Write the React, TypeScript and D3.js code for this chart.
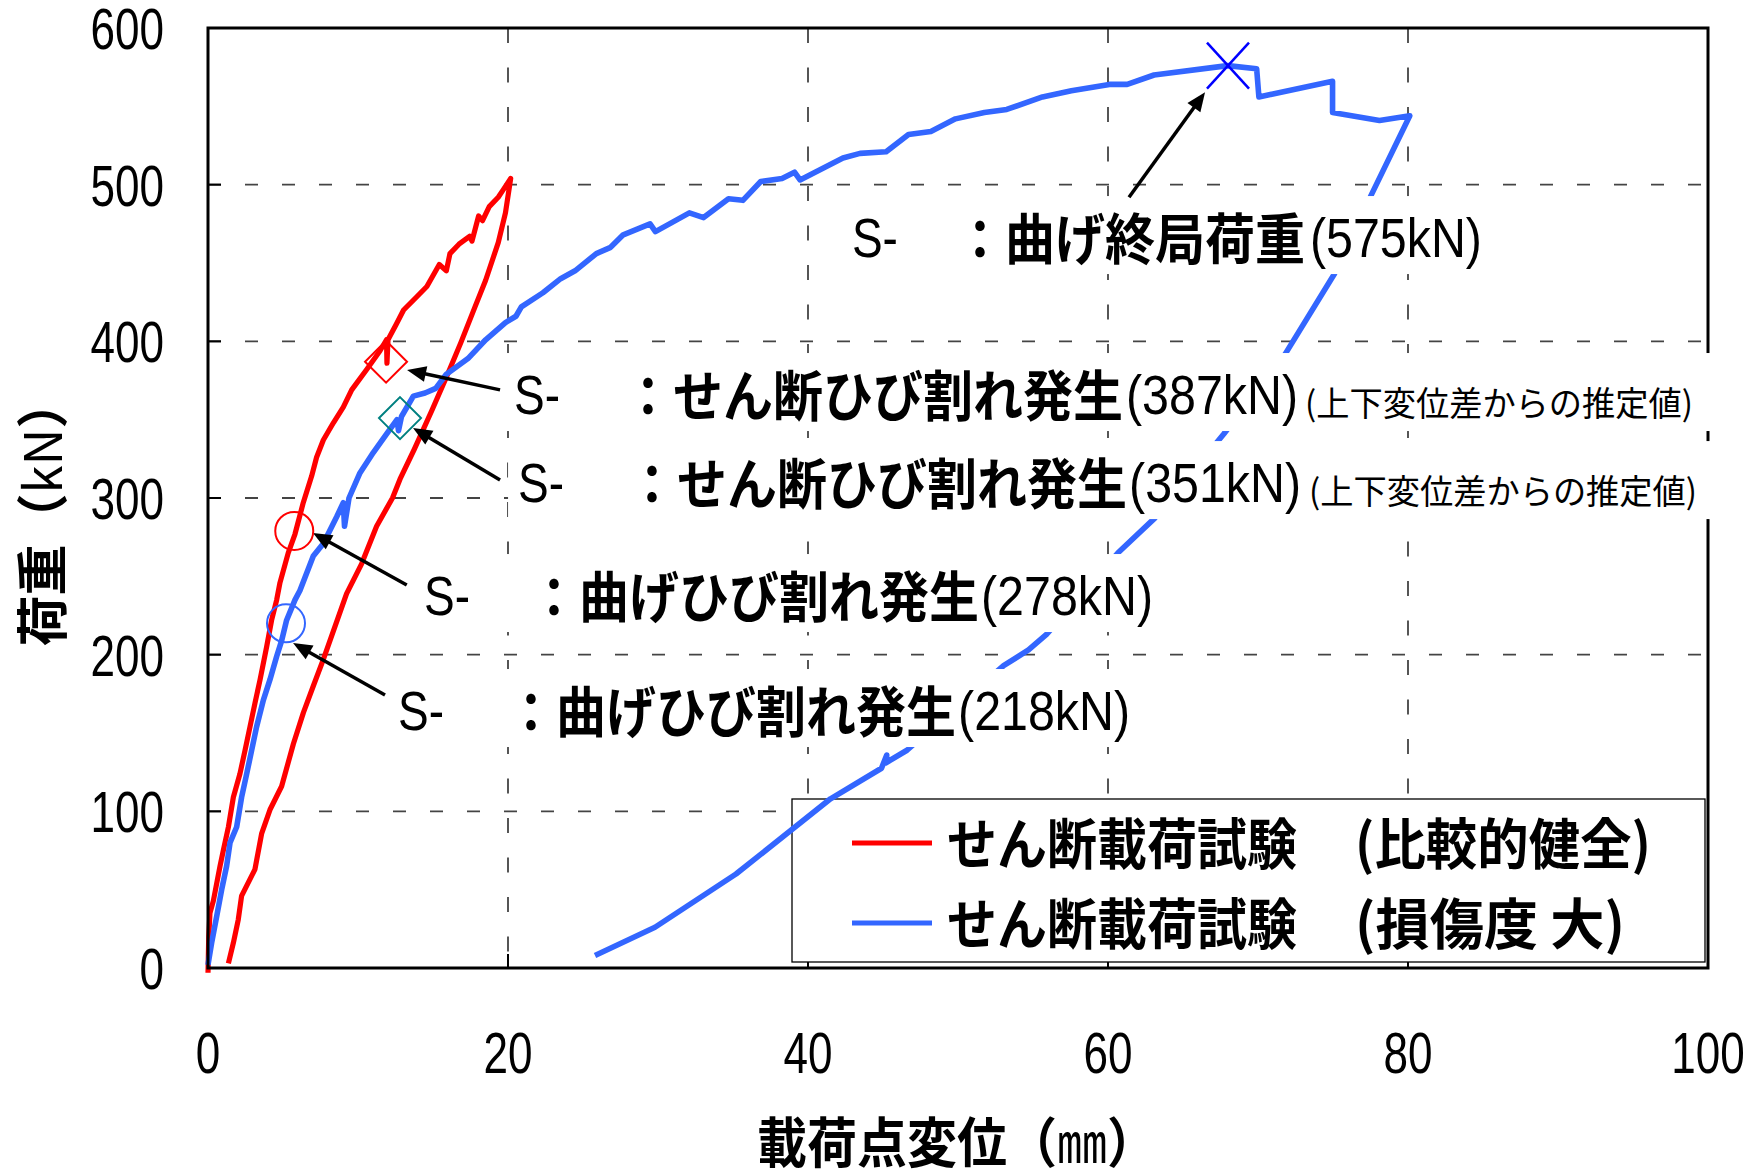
import React from "react";
import * as d3 from "d3";

// ---------- data ----------
const xTicks = [0, 20, 40, 60, 80, 100];
const yTicks = [0, 100, 200, 300, 400, 500, 600];

// せん断載荷試験 (比較的健全) – red
const redDisp = [0, 0.05, 0.13, 0.36, 0.8, 1.02, 1.36, 1.69, 2.13, 2.47, 2.8, 3.13, 3.47, 3.91, 4.24, 4.58, 4.8, 5.35, 5.8, 6.35, 6.91, 7.24, 7.69, 8.36, 9.02, 9.58, 10.58, 11.47, 11.9, 11.93, 12.0, 12.56, 13.04, 13.87, 14.59, 15.42, 15.89, 16.13, 16.73, 17.44, 17.6, 18.04, 18.3, 18.75, 19.35, 19.7, 20.18,
  19.83, 19.35, 18.51, 17.8, 16.85, 15.89, 14.93, 13.75, 12.8, 12.3, 11.24, 10.24, 9.24, 7.69, 7.02, 6.36, 5.69, 4.91, 4.13, 3.58, 3.13, 2.24, 2.02, 1.69, 1.36];
const redLoad = [-3, 20, 35, 43, 65, 75, 90, 109, 124, 139, 154, 169, 184, 205, 222, 235, 246, 265, 277, 297, 314, 326, 337, 348, 358, 369, 382, 394, 401, 386, 401, 411, 420, 428, 435, 449, 445, 456, 462, 467, 464, 480, 477, 486, 492, 497, 504,
  482, 463, 439, 422, 399, 377, 356, 331, 312, 300, 282, 258, 239, 197, 180, 163, 143, 116, 101, 86, 63, 46, 31, 16, 3];

// せん断載荷試験 (損傷度 大) – blue
const blueDisp = [0, 0.24, 0.58, 0.91, 1.24, 1.47, 1.91, 2.24, 2.58, 2.91, 3.24, 3.69, 4.13, 4.58, 4.91, 5.24, 5.8, 6.13, 7.02, 7.69, 8.58, 9.02, 9.1, 9.4, 10.13, 11.02, 11.91, 12.6, 12.7, 12.9, 13.69, 14.47, 15.18, 15.89, 17.33, 18.51, 19.83, 20.53, 20.89, 22.33, 23.51, 24.47, 25.89, 26.84, 27.68, 29.47, 29.83, 32.09, 33.04, 34.7, 35.66, 36.85, 38.27, 39.1, 39.47, 42.33, 43.47, 45.21, 46.7, 48.19, 49.83, 51.76, 53.25, 55.63, 57.56, 60.09, 61.28, 63.07, 67.98, 69.91, 70.06, 74.97, 74.97, 78.1, 80.12,
  77.53, 75.09, 71.82, 67.73, 63.1, 60.67, 55.9, 54.7, 53.04, 46.6, 45.2, 45.25, 44.9, 41.5, 35.2, 29.8, 25.8];
const blueLoad = [2, 16, 33, 50, 65, 80, 90, 109, 124, 139, 154, 171, 184, 199, 209, 222, 235, 241, 263, 271, 288, 297, 282, 300, 316, 329, 341, 350, 343, 352, 365, 367, 370, 379, 389, 401, 412, 416, 422, 431, 440, 445, 456, 460, 468, 475, 470, 482, 479, 491, 490, 502, 504, 508, 503, 517, 520, 521, 532, 534, 542, 546, 548, 556, 560, 564, 564, 570, 576, 574, 556, 566, 546, 541, 544,
  493, 443, 392, 341, 287, 265, 213, 203, 193, 139, 131, 136, 127.5, 108, 60, 26, 8];

// event markers [disp, load]
const redDiamond = [11.87, 387];
const tealDiamond = [12.8, 351];
const redCircle = [5.75, 279];
const blueCircle = [5.2, 220];
const blueCross = [68.0, 576];

// annotation texts
const annHead = ["S-", "S-", "S-", "S-", "S-"];
const annBody = ["：曲げ終局荷重", "：せん断ひび割れ発生", "：せん断ひび割れ発生", "：曲げひび割れ発生", "：曲げひび割れ発生"];
const annValue = ["(575kN)", "(387kN)", "(351kN)", "(278kN)", "(218kN)"];
const annNote = ["", "(上下変位差からの推定値)", "(上下変位差からの推定値)", "", ""];
// anchor of the label (data coords) and arrow start/end (data coords)
const annAnchorX = [42.93, 20.4, 20.67, 14.4, 12.67];
const annAnchorY = [453.8, 353.6, 297.4, 225.3, 151.9];
const arrowFrom = [[61.4, 492], [19.47, 369], [19.47, 311.5], [13.25, 244.5], [11.8, 174.3]];
const arrowTo = [[66.47, 559], [13.27, 381.7], [13.67, 344.7], [7.0, 277.7], [5.67, 207.4]];

const legendNames = ["せん断載荷試験", "せん断載荷試験"];
const legendNotes = ["(比較的健全)", "(損傷度 大)"];
const legendColors = ["#ff0000", "#3366ff"];

// ---------- layout ----------
const W = 1763, H = 1169;
const PL = 208, PR = 1708, PT = 28, PB = 968;
const LATIN = "'Liberation Sans Narrow','Liberation Sans',Arial,sans-serif";
const CJK = "'Noto Sans CJK JP','Noto Sans CJK SC',sans-serif";
const annLayout = [
  { bodyDx: 103, valDx: 458, noteDx: 0, boxL: -14, boxR: 643 },
  { bodyDx: 109, valDx: 612, noteDx: 791, boxL: -9, boxR: 1202 },
  { bodyDx: 109, valDx: 611, noteDx: 791, boxL: -10, boxR: 1200 },
  { bodyDx: 105, valDx: 557, noteDx: 0, boxL: -9, boxR: 741 },
  { bodyDx: 108, valDx: 560, noteDx: 0, boxL: -8, boxR: 742 },
];

function Arrow({ x1, y1, x2, y2 }: { x1: number; y1: number; x2: number; y2: number }) {
  const dx = x2 - x1, dy = y2 - y1;
  const L = Math.hypot(dx, dy);
  const ux = dx / L, uy = dy / L;
  const hl = 19, hw = 8;
  const bx = x2 - ux * hl, by = y2 - uy * hl;
  return (
    <g>
      <line x1={x1} y1={y1} x2={bx + ux * 2} y2={by + uy * 2} stroke="#000" strokeWidth={3.5} />
      <polygon points={`${x2},${y2} ${bx - uy * hw},${by + ux * hw} ${bx + uy * hw},${by - ux * hw}`} fill="#000" />
    </g>
  );
}

export default function App() {
  const x = d3.scaleLinear().domain([0, 100]).range([PL, PR]);
  const y = d3.scaleLinear().domain([0, 600]).range([PB, PT]);
  const line = d3.line<[number, number]>().x((d) => x(d[0])).y((d) => y(d[1]));
  const redPts = redDisp.map((d, i) => [d, redLoad[i]] as [number, number]);
  const bluePts = blueDisp.map((d, i) => [d, blueLoad[i]] as [number, number]);

  const diamond = (p: number[], r: number) => {
    const cx = x(p[0]), cy = y(p[1]);
    return `M${cx},${cy - r}L${cx + r},${cy}L${cx},${cy + r}L${cx - r},${cy}Z`;
  };

  return (
    <svg width={W} height={H} style={{ position: "absolute", left: 0, top: 0, background: "#fff" }}>
      <rect x={0} y={0} width={W} height={H} fill="#fff" />
      {/* grid */}
      {yTicks.filter((t) => t > 0 && t < 600).map((t) => (
        <line key={"gy" + t} x1={PL} x2={PR} y1={y(t)} y2={y(t)} stroke="#444" strokeWidth={1.8} strokeDasharray="13 24" />
      ))}
      {xTicks.filter((t) => t > 0 && t < 100).map((t) => (
        <line key={"gx" + t} x1={x(t)} x2={x(t)} y1={PT} y2={PB} stroke="#444" strokeWidth={1.8} strokeDasharray="15 24.5" />
      ))}
      {/* inner ticks */}
      {yTicks.map((t) => (
        <line key={"ty" + t} x1={PL} x2={PL + 13} y1={y(t)} y2={y(t)} stroke="#000" strokeWidth={2} />
      ))}
      {xTicks.map((t) => (
        <line key={"tx" + t} x1={x(t)} x2={x(t)} y1={PB} y2={PB - 14} stroke="#000" strokeWidth={2} />
      ))}

      {/* legend frame (under curves) */}
      <rect x={792} y={799} width={913} height={163} fill="#fff" stroke="#000" strokeWidth={1.3} />

      {/* curves */}
      <path d={line(redPts) || ""} fill="none" stroke="#ff0000" strokeWidth={5.2} strokeLinejoin="round" />
      <path d={line(bluePts) || ""} fill="none" stroke="#3366ff" strokeWidth={5.6} strokeLinejoin="round" />

      {/* frame */}
      <rect x={PL} y={PT} width={PR - PL} height={PB - PT} fill="none" stroke="#000" strokeWidth={3} />

      {/* annotation boxes and texts */}
      {annHead.map((h, i) => {
        const ax = x(annAnchorX[i]);
        const ay = y(annAnchorY[i]);
        const L = annLayout[i];
        const bodyW = Array.from(annBody[i]).length * 50;
        return (
          <g key={"ann" + i}>
            <rect x={ax + L.boxL} y={ay - 61} width={L.boxR - L.boxL} height={78} fill="#fff" />
            <text x={ax} y={ay} fontFamily={LATIN} fontSize={56} textLength={46} lengthAdjust="spacingAndGlyphs" fill="#000">{h}</text>
            <text x={ax + L.bodyDx} y={ay + 2} fontFamily={CJK} fontWeight={700} fontSize={55} textLength={bodyW} lengthAdjust="spacingAndGlyphs" fill="#000">{annBody[i]}</text>
            <text x={ax + L.valDx} y={ay} fontFamily={LATIN} fontSize={56} textLength={172} lengthAdjust="spacingAndGlyphs" fill="#000">{annValue[i]}</text>
            {annNote[i] ? (
              <text x={ax + L.noteDx} y={ay + 2} fontFamily={CJK} fontSize={34} textLength={388} lengthAdjust="spacingAndGlyphs" fill="#000">{annNote[i]}</text>
            ) : null}
          </g>
        );
      })}

      {/* arrows */}
      {arrowFrom.map((f, i) => (
        <Arrow key={"ar" + i} x1={x(f[0])} y1={y(f[1])} x2={x(arrowTo[i][0])} y2={y(arrowTo[i][1])} />
      ))}

      {/* markers */}
      <path d={diamond(redDiamond, 21)} fill="none" stroke="#ff0000" strokeWidth={2} />
      <path d={diamond(tealDiamond, 21)} fill="none" stroke="#008080" strokeWidth={2} />
      <circle cx={x(redCircle[0])} cy={y(redCircle[1])} r={19} fill="none" stroke="#ff0000" strokeWidth={2} />
      <circle cx={x(blueCircle[0])} cy={y(blueCircle[1])} r={19} fill="none" stroke="#3366ff" strokeWidth={2} />
      <g stroke="#0000ff" strokeWidth={2.5}>
        <line x1={x(blueCross[0]) - 21} y1={y(blueCross[1]) - 23} x2={x(blueCross[0]) + 21} y2={y(blueCross[1]) + 23} />
        <line x1={x(blueCross[0]) - 21} y1={y(blueCross[1]) + 23} x2={x(blueCross[0]) + 21} y2={y(blueCross[1]) - 23} />
      </g>

      {/* legend contents */}
      {legendNames.map((n, i) => {
        const cy = 843 + i * 80;
        return (
          <g key={"lg" + i}>
            <line x1={852} x2={932} y1={cy} y2={cy} stroke={legendColors[i]} strokeWidth={5} />
            <text x={947} y={cy + 21} fontFamily={CJK} fontWeight={700} fontSize={55} textLength={350} lengthAdjust="spacingAndGlyphs" fill="#000">{n}</text>
            <text x={1355} y={cy + 21} fontFamily={CJK} fontWeight={700} fontSize={55} textLength={i === 0 ? 296 : 270} lengthAdjust="spacingAndGlyphs" fill="#000">{legendNotes[i]}</text>
          </g>
        );
      })}

      {/* tick labels */}
      {yTicks.map((t) => (
        <text key={"yl" + t} x={164} y={y(t) + 21} textAnchor="end" fontFamily={LATIN} fontSize={58} textLength={String(t).length * 24.5} lengthAdjust="spacingAndGlyphs" fill="#000">{t}</text>
      ))}
      {xTicks.map((t) => (
        <text key={"xl" + t} x={x(t)} y={1073} textAnchor="middle" fontFamily={LATIN} fontSize={58} textLength={String(t).length * 24.5} lengthAdjust="spacingAndGlyphs" fill="#000">{t}</text>
      ))}

      {/* axis titles */}
      <text x={957} y={1163} textAnchor="middle" fontFamily={CJK} fontWeight={700} fontSize={54} textLength={400} lengthAdjust="spacingAndGlyphs" fill="#000">
        載荷点変位（<tspan fontWeight={400}>㎜</tspan>）
      </text>
      <text transform="translate(62,512) rotate(-90)" textAnchor="middle" fontFamily={CJK} fontWeight={700} fontSize={52} textLength={269} lengthAdjust="spacingAndGlyphs" fill="#000">
        荷重（<tspan fontWeight={400}>kN</tspan>）
      </text>
    </svg>
  );
}
